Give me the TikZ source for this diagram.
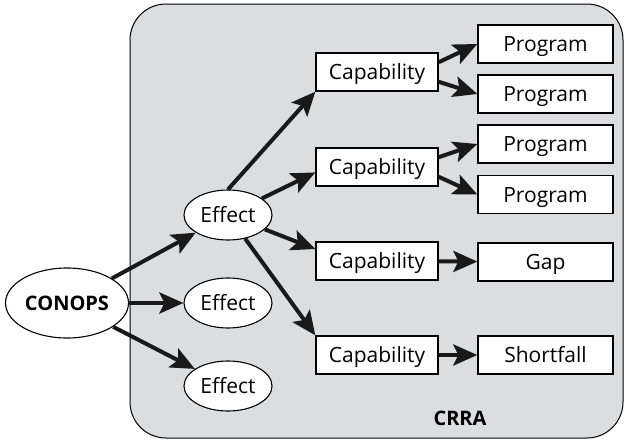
\documentclass[tikz,border=0pt]{standalone}
\usepackage{fontspec}
\setmainfont{Open Sans}
\usetikzlibrary{shapes.geometric,arrows.meta}
\definecolor{crragray}{HTML}{DCDDDF}
\begin{document}
\begin{tikzpicture}[x=1pt,y=-1pt,
        font=\fontsize{21}{25}\selectfont,
        every node/.style={text height=15pt,text depth=0pt,inner sep=0pt},
        oval/.style={ellipse,draw,fill=white,line width=1.1pt,minimum width=88pt,minimum height=50pt},
        bigoval/.style={oval,minimum width=123pt,minimum height=70pt,font=\fontsize{20}{24}\selectfont\bfseries},
        capbox/.style={rectangle,draw,fill=white,line width=1.3pt,minimum width=122pt,minimum height=38pt},
        progbox/.style={capbox,minimum width=135pt},
        link/.style={line width=4pt,draw=black!90,-{Stealth[length=24pt,width=21pt,inset=5pt]}}]
                \useasboundingbox (0,0) rectangle (626,442);
                \draw[fill=crragray,line width=1pt,rounded corners=36pt] (130,4) rectangle (623,438);

                \node[bigoval] (CON) at (67,303) {CONOPS};
                \node[oval] (E1) at (228,215) {Effect};
                \node[oval] (E2) at (228,303) {Effect};
                \node[oval] (E3) at (228,386) {Effect};
                \node[capbox] (C1) at (377,72) {Capability};
                \node[capbox] (C2) at (377,167) {Capability};
                \node[capbox] (C3) at (377,261) {Capability};
                \node[capbox] (C4) at (377,355) {Capability};
                \node[progbox] (P1) at (545.5,44) {Program};
                \node[progbox] (P2) at (545.5,94) {Program};
                \node[progbox] (P3) at (545.5,144) {Program};
                \node[progbox] (P4) at (545.5,194.5) {Program};
                \node[progbox] (gap) at (545.5,262) {Gap};
                \node[progbox] (short) at (545.5,355) {Shortfall};
                \node[font=\fontsize{20}{24}\selectfont\bfseries] (crra) at (460,418) {CRRA};

                \draw[link] (CON) to (E1); \draw[link] (CON) to (E2); \draw[link] (CON) to (E3);
                \draw[link] (E1.north) to (C1.south west); \draw[link] (E1) to (C2.185);
                \draw[link] (E1) to (C3.169); \draw[link] (E1) to (C4.north west);
                \draw[link] (C1.9) to (P1.west); \draw[link] (C1.-9) to (P2.west);
                \draw[link] (C2.9) to (P3.west); \draw[link] (C2.-9) to (P4.west);
                \draw[link] (C3) to (gap); \draw[link] (C4) to (short);
\end{tikzpicture}
\end{document}
